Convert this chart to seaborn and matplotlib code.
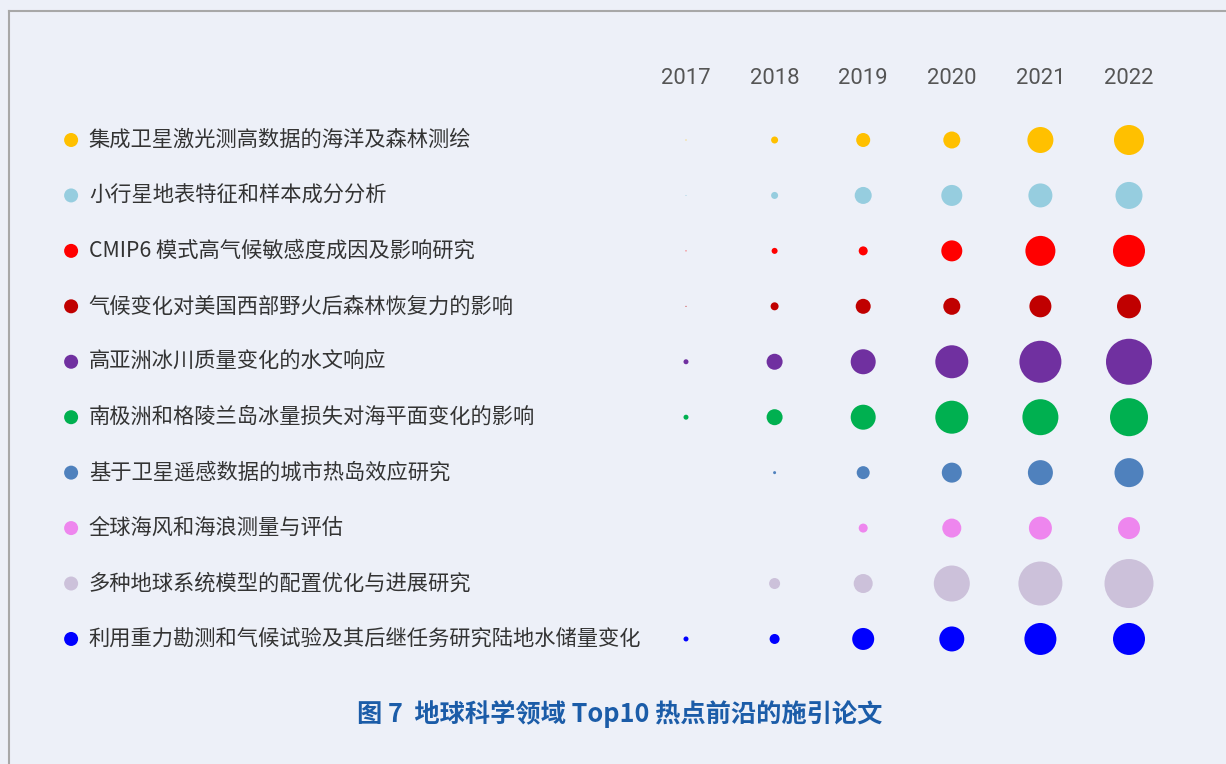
import numpy as np
import pandas as pd
import matplotlib.pyplot as plt
import seaborn as sns
from matplotlib.lines import Line2D

# data: bubble area per topic and year
years = ['2017', '2018', '2019', '2020', '2021', '2022']
topics = [
    '集成卫星激光测高数据的海洋及森林测绘',
    '小行星地表特征和样本成分分析',
    'CMIP6 模式高气候敏感度成因及影响研究',
    '气候变化对美国西部野火后森林恢复力的影响',
    '高亚洲冰川质量变化的水文响应',
    '南极洲和格陵兰岛冰量损失对海平面变化的影响',
    '基于卫星遥感数据的城市热岛效应研究',
    '全球海风和海浪测量与评估',
    '多种地球系统模型的配置优化与进展研究',
    '利用重力勘测和气候试验及其后继任务研究陆地水储量变化',
]
colors = ['#ffc000', '#96cddf', '#ff0000', '#c00000', '#7030a0',
          '#00b050', '#4f81bd', '#ee86ee', '#ccc1da', '#0000ff']

v_icesat = [1, 49, 196, 289, 676, 900]
v_asteroid = [1, 49, 289, 441, 576, 729]
v_cmip6 = [1, 36, 81, 441, 900, 1024]
v_wildfire = [1, 64, 225, 289, 484, 576]
v_glacier = [25, 256, 625, 1089, 1764, 2116]
v_icesheet = [25, 256, 625, 1089, 1296, 1444]
v_heatisland = [0, 9, 169, 400, 625, 841]
v_wind = [0, 0, 81, 361, 529, 484]
v_esm = [0, 121, 361, 1296, 1936, 2401]
v_grace = [25, 100, 484, 625, 1024, 1024]

values = [v_icesat, v_asteroid, v_cmip6, v_wildfire, v_glacier,
          v_icesheet, v_heatisland, v_wind, v_esm, v_grace]

rows = []
for i, t in enumerate(topics):
    for j, y in enumerate(years):
        if values[i][j] > 0:
            rows.append({'topic': t, 'row': i, 'col': j, 'value': values[i][j]})
df = pd.DataFrame(rows)

bg = '#edf0f8'
plt.rcParams['font.family'] = ['Noto Sans CJK SC', 'DejaVu Sans']

fig = plt.figure(figsize=(12.26, 7.64), dpi=100, facecolor=bg)
ax = fig.add_axes([0, 0, 1, 1])
ax.set_facecolor(bg)

# column spacing ~88.6px from x=686, row spacing ~55.44px from y=140
ax.set_xlim(-686 / 88.6, 5 + (1226 - 1129) / 88.6)
ax.set_ylim((764 - 140) / 55.44, -140 / 55.44)

max_s = (50 * 0.72) ** 2
sns.scatterplot(data=df, x='col', y='row', hue='topic', palette=dict(zip(topics, colors)),
                size='value', sizes=(0, max_s), size_norm=(0, 2500),
                linewidth=0, legend=False, ax=ax)

# topic labels with dots
ax.scatter([-6.94] * len(topics), range(len(topics)), s=(14 * 0.72) ** 2,
           c=colors, linewidths=0, clip_on=False)
for i, t in enumerate(topics):
    ax.text(-6.74, i, t, fontsize=15.3, color='#333333', va='center', ha='left')

# year header
for j, y in enumerate(years):
    ax.text(j, -1.11, y, fontsize=15.8, color='#555555', ha='center', va='center',
            family=['Roboto', 'DejaVu Sans'])

# caption
ax.text(620 / 88.6 - 686 / 88.6, 10.353,
        '图 7  地球科学领域 Top10 热点前沿的施引论文', fontsize=18.2, fontweight='bold',
        color='#1b5ca8', ha='center', va='center')

ax.axis('off')

# frame lines at top and left
fig.add_artist(Line2D([9 / 1226, 9 / 1226], [0, 1 - 11 / 764], color='#a8a8a8', lw=1.5))
fig.add_artist(Line2D([9 / 1226, 1], [1 - 11 / 764, 1 - 11 / 764], color='#a8a8a8', lw=1.5))

fig.savefig('out.png', dpi=100, facecolor=bg)
